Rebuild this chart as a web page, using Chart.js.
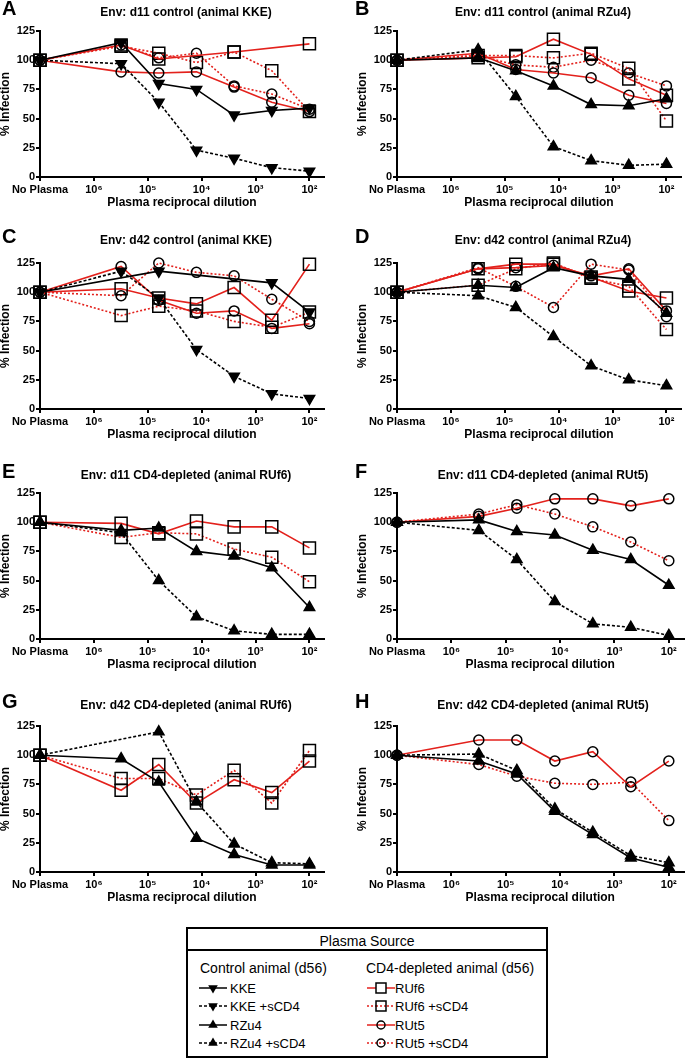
<!DOCTYPE html>
<html>
<head>
<meta charset="utf-8">
<script src="https://cdn.jsdelivr.net/npm/chart.js@4.4.1/dist/chart.umd.min.js"></script>
<style>
  body { margin: 0; background: #fff; width: 691px; height: 1058px; position: relative; overflow: hidden;
         font-family: "Liberation Sans", Arial, Helvetica, sans-serif; color: #000; }
  canvas.panel { position: absolute; }
  .letter { position: absolute; font-weight: bold; font-size: 20px; line-height: 20px; transform: translateY(-50%); }
  .title { position: absolute; font-weight: bold; font-size: 12px; white-space: nowrap; transform: translate(-50%, -50%); }
  #legend { position: absolute; left: 186px; top: 927px; width: 358px; height: 127px; border: 2px solid #000; }
  #legend .t { position: absolute; white-space: nowrap; transform: translateY(-50%); }
  #legend .hdr { font-size: 14px; }
  #legend .item { font-size: 13px; }
  #legend .sep { position: absolute; left: 0; right: 0; top: 20px; height: 0; border-top: 2px solid #000; }
  #legend canvas { position: absolute; }
</style>
</head>
<body>
<div id="legend"></div>
<script>
// x positions: "No Plasma" sits at the axis origin (plotted at 1e7), then reciprocal dilutions
const dilutions = [1e7, 312500, 62500, 12500, 2500, 500, 100];
const xTickValues = [1e7, 1e6, 1e5, 1e4, 1e3, 1e2];
const xTickLabels = ['No Plasma', '10⁶', '10⁵', '10⁴', '10³', '10²'];
const yTickValues = [0, 25, 50, 75, 100, 125];

// A: Env d11 control (animal KKE)
const aKKE     = [100, 115, 80, 75, 53, 57, 59];
const aKKEs    = [100, 97, 64, 23, 16, 8, 5];
const aRUf6    = [100, 113, 101, null, 107, null, 114];
const aRUf6s   = [100, 112, 106, 98, 107, 91, 56];
const aRUt5    = [100, 90, 89, 90, 77, 64, 56];
const aRUt5s   = [100, 113, 102, 106, 78, 71, 58];

// B: Env d11 control (animal RZu4)
const bRZu4    = [100, 102, 91, 78, 62, 61, 67];
const bRZu4s   = [100, 109, 69, 26, 14, 10, 11];
const bRUf6    = [100, 102, 103, 118, 105, 84, 70];
const bRUf6s   = [100, 104, 104, 102, 106, 93, 48];
const bRUt5    = [100, 106, 92, 89, 85, 70, 63];
const bRUt5s   = [100, 104, 96, 94, 100, 89, 78];

// C: Env d42 control (animal KKE)
const cKKE     = [100, null, 118, null, null, 108, 83];
const cKKEs    = [100, 118, 95, 51, 28, 13, 9];
const cRUf6    = [100, 103, 95, 90, 104, 76, 124];
const cRUf6s   = [100, 80, 88, 84, 75, 70, 83];
const cRUt5    = [100, 122, 93, 82, 84, 69, 73];
const cRUt5s   = [100, 97, 125, 117, 114, 94, 75];

// D: Env d42 control (animal RZu4)
const dRZu4    = [100, 106, 104, 121, 114, 111, 82];
const dRZu4s   = [100, 97, 87, 62, 37, 25, 20];
const dRUf6    = [100, 120, 124, 124, 113, 101, 95];
const dRUf6s   = [100, 106, 120, 125, 112, 105, 68];
const dRUt5    = [100, 120, 121, 123, 114, 120, 84];
const dRUt5s   = [100, 121, 105, 87, 124, 119, 79];

// E: Env d11 CD4-depleted (animal RUf6)
const eRZu4    = [100, 93, 95, 75, 71, 61, 27];
const eRZu4s   = [100, 91, 50, 19, 7, 4, 4];
const eRUf6    = [100, 99, 90, 101, 96, 96, 78];
const eRUf6s   = [100, 87, 91, 90, 77, 70, 49];

// F: Env d11 CD4-depleted (animal RUt5)
const fRZu4    = [100, 102, 92, 89, 76, 68, 46];
const fRZu4s   = [100, 93, 68, 32, 13, 10, 3];
const fRUt5    = [100, 105, 112, 120, 120, 114, 120];
const fRUt5s   = [100, 107, 115, 107, 96, 83, 67];

// G: Env d42 CD4-depleted (animal RUf6)
const gRZu4    = [100, 97, 77, 29, 15, 6, 6];
const gRZu4s   = [100, null, 120, 60, 24, 8, 7];
const gRUf6    = [100, 70, 92, 59, 79, 68, 95];
const gRUf6s   = [100, 80, 80, 66, 87, 59, 104];

// H: Env d42 CD4-depleted (animal RUt5)
const hRZu4    = [100, 95, 84, 52, 32, 12, 4];
const hRZu4s   = [100, 101, 87, 54, 34, 14, 8];
const hRUt5    = [100, 113, 113, 95, 103, 73, 95];
const hRUt5s   = [100, 92, 82, 76, 75, 77, 44];

const BLACK = '#000000';
const RED = '#e3211c';
const NONE = 'rgba(0,0,0,0)';

const styles = {
  'KKE':         { color: BLACK, dash: [],     shape: 'triangle', rot: 180, r: 6,   fill: BLACK },
  'KKE +sCD4':   { color: BLACK, dash: [3, 2], shape: 'triangle', rot: 180, r: 6,   fill: BLACK },
  'RZu4':        { color: BLACK, dash: [],     shape: 'triangle', rot: 0,   r: 6,   fill: BLACK },
  'RZu4 +sCD4':  { color: BLACK, dash: [3, 2], shape: 'triangle', rot: 0,   r: 6,   fill: BLACK },
  'RUf6':        { color: RED,   dash: [],     shape: 'rect',     rot: 0,   r: 8.5, fill: NONE },
  'RUf6 +sCD4':  { color: RED,   dash: [2, 2], shape: 'rect',     rot: 0,   r: 8.5, fill: NONE },
  'RUt5':        { color: RED,   dash: [],     shape: 'circle',   rot: 0,   r: 5,   fill: NONE },
  'RUt5 +sCD4':  { color: RED,   dash: [2, 2], shape: 'circle',   rot: 0,   r: 5,   fill: NONE }
};

const panels = [
  { letter: 'A', title: 'Env: d11 control (animal KKE)', col: 0, row: 0,
    series: [['KKE', aKKE], ['KKE +sCD4', aKKEs], ['RUf6', aRUf6], ['RUf6 +sCD4', aRUf6s], ['RUt5', aRUt5], ['RUt5 +sCD4', aRUt5s]] },
  { letter: 'B', title: 'Env: d11 control (animal RZu4)', col: 1, row: 0,
    series: [['RZu4', bRZu4], ['RZu4 +sCD4', bRZu4s], ['RUf6', bRUf6], ['RUf6 +sCD4', bRUf6s], ['RUt5', bRUt5], ['RUt5 +sCD4', bRUt5s]] },
  { letter: 'C', title: 'Env: d42 control (animal KKE)', col: 0, row: 1,
    series: [['KKE', cKKE], ['KKE +sCD4', cKKEs], ['RUf6', cRUf6], ['RUf6 +sCD4', cRUf6s], ['RUt5', cRUt5], ['RUt5 +sCD4', cRUt5s]] },
  { letter: 'D', title: 'Env: d42 control (animal RZu4)', col: 1, row: 1,
    series: [['RZu4', dRZu4], ['RZu4 +sCD4', dRZu4s], ['RUf6', dRUf6], ['RUf6 +sCD4', dRUf6s], ['RUt5', dRUt5], ['RUt5 +sCD4', dRUt5s]] },
  { letter: 'E', title: 'Env: d11 CD4-depleted (animal RUf6)', col: 0, row: 2,
    series: [['RZu4', eRZu4], ['RZu4 +sCD4', eRZu4s], ['RUf6', eRUf6], ['RUf6 +sCD4', eRUf6s]] },
  { letter: 'F', title: 'Env: d11 CD4-depleted (animal RUt5)', col: 1, row: 2,
    series: [['RZu4', fRZu4], ['RZu4 +sCD4', fRZu4s], ['RUt5', fRUt5], ['RUt5 +sCD4', fRUt5s]] },
  { letter: 'G', title: 'Env: d42 CD4-depleted (animal RUf6)', col: 0, row: 3,
    series: [['RZu4', gRZu4], ['RZu4 +sCD4', gRZu4s], ['RUf6', gRUf6], ['RUf6 +sCD4', gRUf6s]] },
  { letter: 'H', title: 'Env: d42 CD4-depleted (animal RUt5)', col: 1, row: 3,
    series: [['RZu4', hRZu4], ['RZu4 +sCD4', hRZu4s], ['RUt5', hRUt5], ['RUt5 +sCD4', hRUt5s]] }
];

// page layout
const colLeft = [-12, 345];
const rowTop = [0, 232, 462, 695];
const titleY = [12, 240, 475, 705];
const letterX = [2, 355];
const W = 346, H = 232;

Chart.defaults.font.family = '"Liberation Sans", Arial, Helvetica, sans-serif';
Chart.defaults.color = '#000';

const bold11 = { size: 11, weight: 'bold' };
const bold12 = { size: 12, weight: 'bold' };

function makePanel(p) {
  const left = colLeft[p.col], top = rowTop[p.row];
  const cv = document.createElement('canvas');
  cv.className = 'panel';
  cv.width = W; cv.height = H;
  cv.style.left = left + 'px'; cv.style.top = top + 'px';
  document.body.appendChild(cv);

  const lt = document.createElement('div');
  lt.className = 'letter';
  lt.textContent = p.letter;
  lt.style.left = letterX[p.col] + 'px';
  lt.style.top = (titleY[p.row] - 4) + 'px';
  document.body.appendChild(lt);

  const tt = document.createElement('div');
  tt.className = 'title';
  tt.textContent = p.title;
  tt.style.left = (left + 198) + 'px';
  tt.style.top = titleY[p.row] + 'px';
  document.body.appendChild(tt);

  const datasets = p.series.map(([name, vals]) => {
    const s = styles[name];
    return {
      label: name,
      data: dilutions.map((d, i) => ({ x: d, y: vals[i] })),
      borderColor: s.color,
      borderWidth: 1.6,
      borderDash: s.dash,
      pointStyle: s.shape,
      pointRotation: s.rot,
      pointRadius: s.r,
      pointBackgroundColor: s.fill,
      pointBorderColor: BLACK,
      pointBorderWidth: 1.5,
      tension: 0,
      spanGaps: true,
      clip: false
    };
  });

  new Chart(cv, {
    type: 'line',
    data: { datasets },
    options: {
      responsive: false,
      animation: false,
      devicePixelRatio: 1,
      layout: { padding: { top: 31, right: 2, bottom: 0, left: 0 } },
      plugins: { legend: { display: false }, tooltip: { enabled: false }, title: { display: false } },
      scales: {
        x: {
          type: 'logarithmic',
          reverse: true,
          min: 53.7,
          max: 1e7,
          afterBuildTicks: s => { s.ticks = xTickValues.map(v => ({ value: v })); },
          afterFit: s => { s.height = 55; },
          ticks: { autoSkip: false, maxRotation: 0, padding: 2, color: '#000', font: bold11,
                   callback: (v, i) => xTickLabels[i] },
          grid: { drawOnChartArea: false, drawTicks: true, tickLength: 4, color: '#000', lineWidth: 2 },
          border: { display: true, color: '#000', width: 2 },
          title: { display: true, text: 'Plasma reciprocal dilution', color: '#000', font: bold12,
                   padding: { top: 0, bottom: 22 } }
        },
        y: {
          min: 0,
          max: 125,
          afterBuildTicks: s => { s.ticks = yTickValues.map(v => ({ value: v })); },
          afterFit: s => { s.width = 52; },
          ticks: { padding: 1, color: '#000', font: bold11 },
          grid: { drawOnChartArea: false, drawTicks: true, tickLength: 4, color: '#000', lineWidth: 2 },
          border: { display: true, color: '#000', width: 2 },
          title: { display: true, text: '% Infection', color: '#000', font: bold12,
                   padding: { top: 10, bottom: 0 } }
        }
      }
    }
  });
}

panels.forEach(makePanel);

// legend box (HTML text, small canvas glyphs for the line/marker samples)
const legend = document.getElementById('legend');
function addText(txt, cls, x, y, center) {
  const d = document.createElement('div');
  d.className = 't ' + cls;
  d.textContent = txt;
  d.style.top = y + 'px';
  if (center) { d.style.left = '0'; d.style.width = '100%'; d.style.textAlign = 'center'; }
  else d.style.left = x + 'px';
  legend.appendChild(d);
}
function drawGlyph(x, y, name) {
  const s = styles[name];
  const c = document.createElement('canvas');
  c.width = 28; c.height = 16;
  c.style.left = x + 'px'; c.style.top = (y - 8) + 'px';
  legend.appendChild(c);
  const g = c.getContext('2d');
  g.strokeStyle = s.color; g.lineWidth = 1.5; g.setLineDash(s.dash);
  g.beginPath(); g.moveTo(0, 8); g.lineTo(28, 8); g.stroke();
  g.setLineDash([]);
  g.strokeStyle = BLACK; g.fillStyle = BLACK; g.lineWidth = 1.5;
  g.beginPath();
  if (s.shape === 'triangle') {
    const r = 5.5;
    if (s.rot) { g.moveTo(14, 8 + r); g.lineTo(14 - r * 0.87, 8 - r / 2); g.lineTo(14 + r * 0.87, 8 - r / 2); }
    else { g.moveTo(14, 8 - r); g.lineTo(14 - r * 0.87, 8 + r / 2); g.lineTo(14 + r * 0.87, 8 + r / 2); }
    g.closePath(); g.fill();
  } else if (s.shape === 'rect') {
    g.fillStyle = '#fff'; g.fillRect(9, 3, 10, 10);
    if (s.dash.length) { g.strokeStyle = s.color; g.setLineDash(s.dash); g.beginPath(); g.moveTo(9, 8); g.lineTo(19, 8); g.stroke(); g.setLineDash([]); g.strokeStyle = BLACK; g.beginPath(); }
    g.rect(9, 3, 10, 10); g.stroke();
  } else {
    g.arc(14, 8, 4, 0, Math.PI * 2); g.stroke();
  }
}

addText('Plasma Source', 'hdr', 0, 12, true);
const sep = document.createElement('div'); sep.className = 'sep'; legend.appendChild(sep);
addText('Control animal (d56)', 'hdr', 12, 39, false);
addText('CD4-depleted animal (d56)', 'hdr', 178, 39, false);
const legendRows = [59, 77, 96, 114];
const leftNames = ['KKE', 'KKE +sCD4', 'RZu4', 'RZu4 +sCD4'];
const rightNames = ['RUf6', 'RUf6 +sCD4', 'RUt5', 'RUt5 +sCD4'];
legendRows.forEach((y, i) => {
  drawGlyph(11, y, leftNames[i]);
  addText(leftNames[i], 'item', 42, y, false);
  drawGlyph(179, y, rightNames[i]);
  addText(rightNames[i], 'item', 207, y, false);
});
</script>
</body>
</html>
